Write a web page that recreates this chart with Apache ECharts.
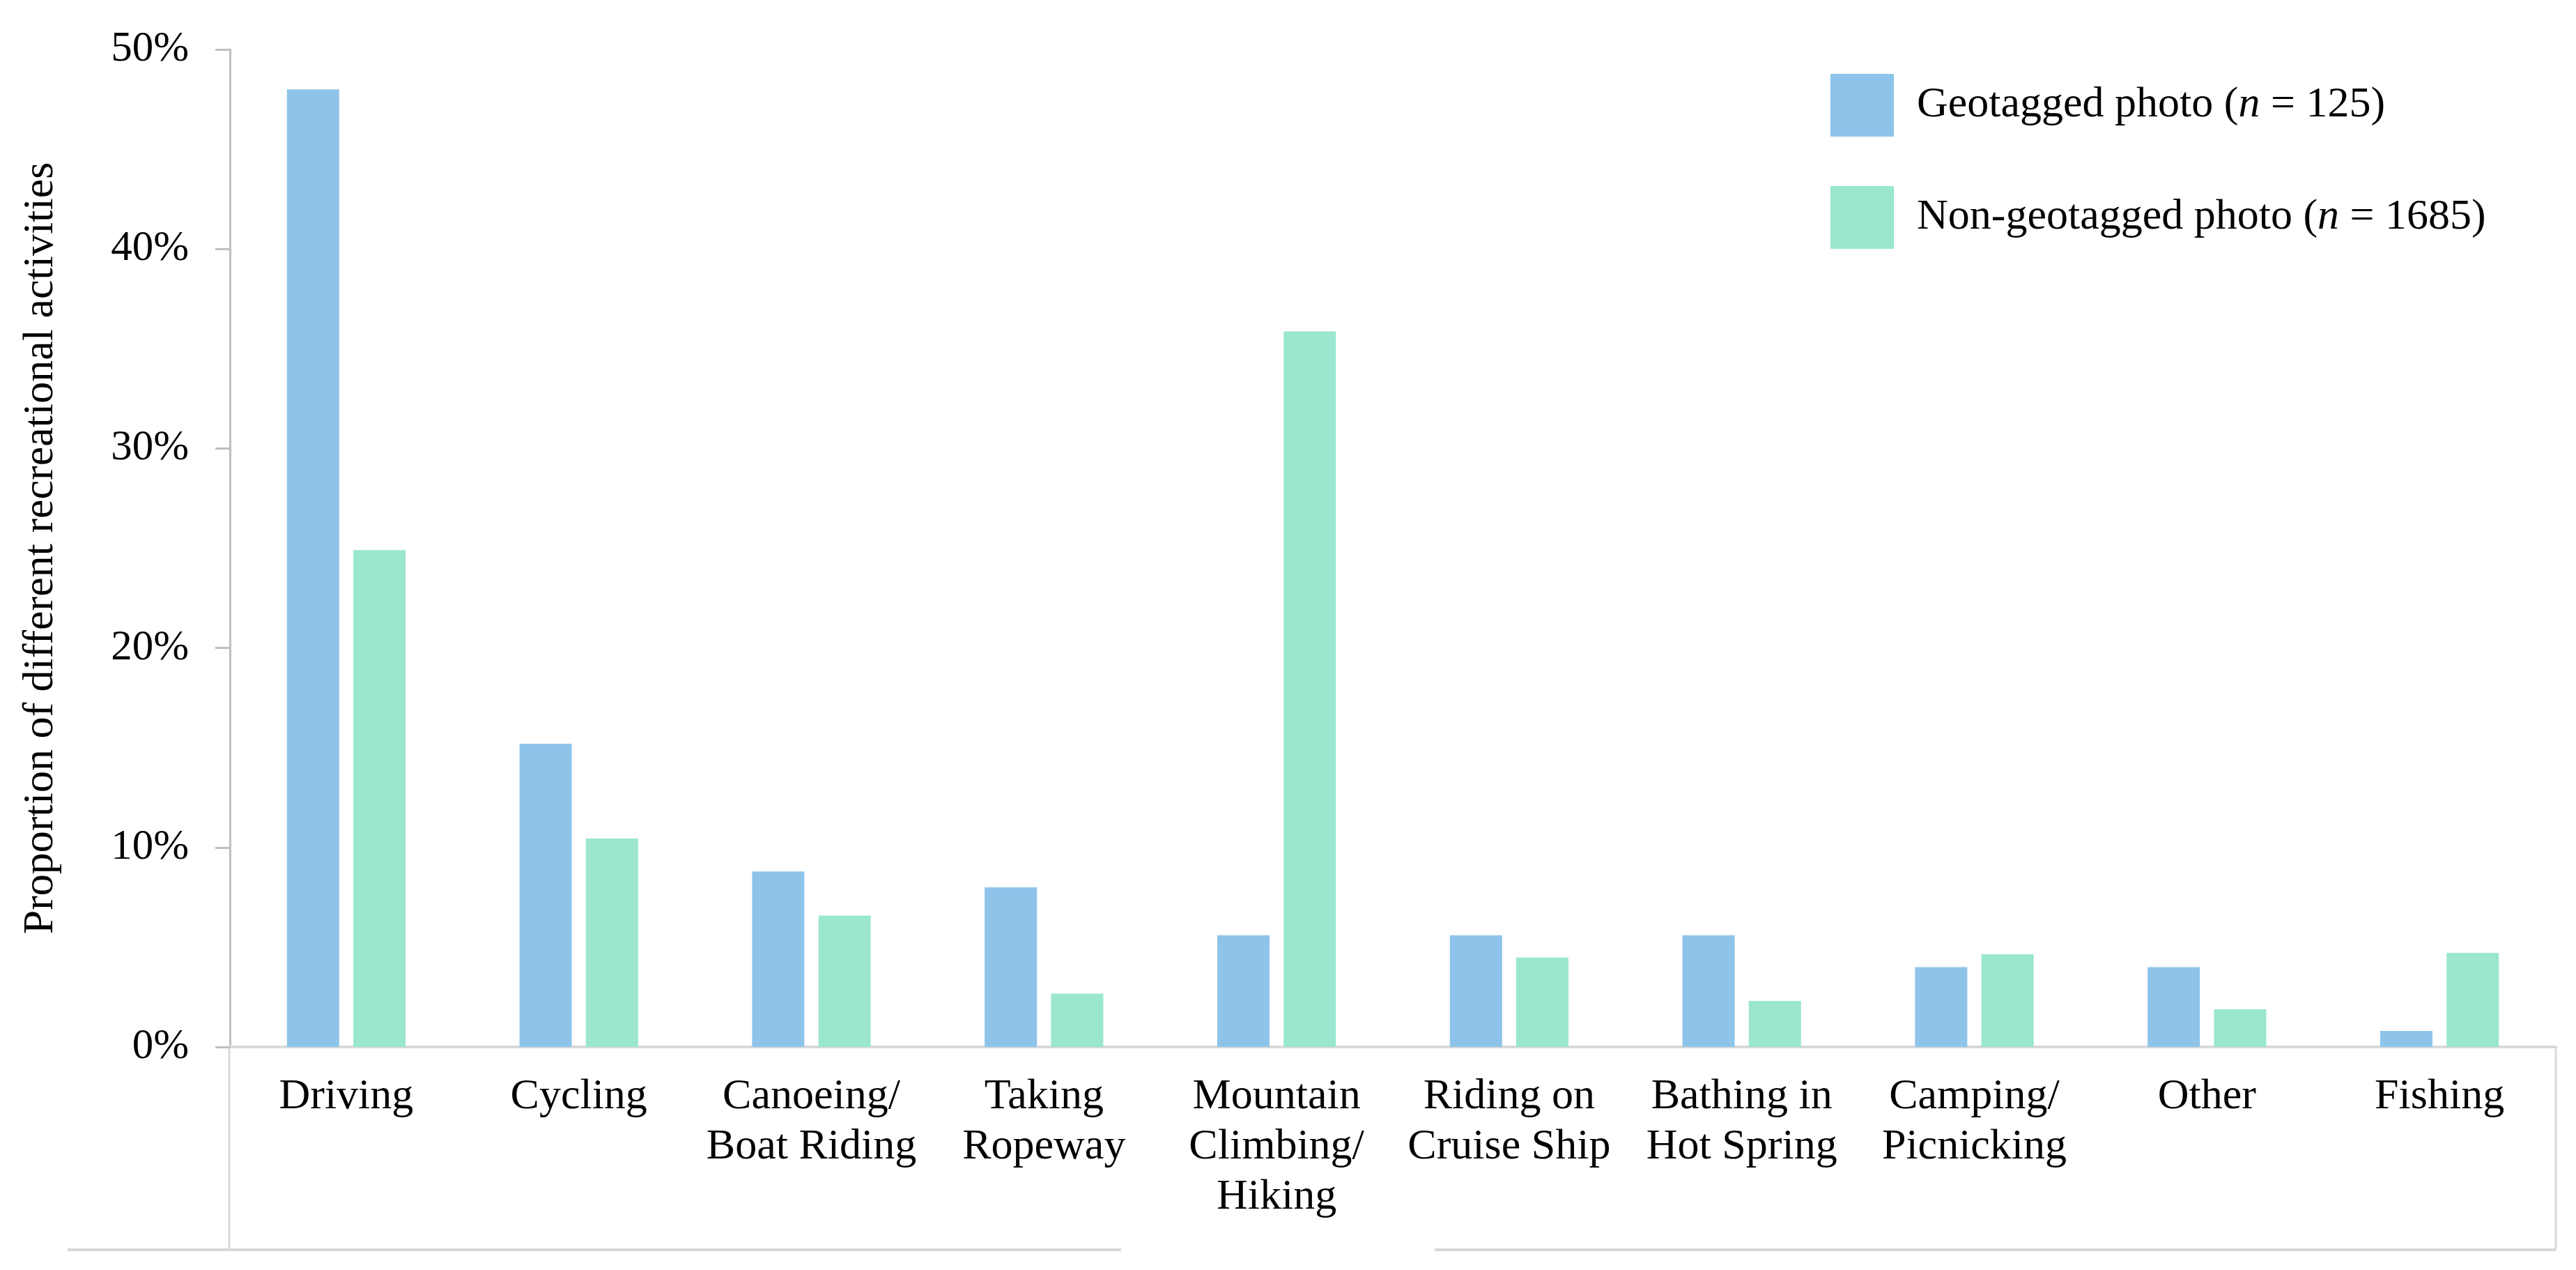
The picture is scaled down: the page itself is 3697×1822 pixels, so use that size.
<!DOCTYPE html>
<html>
<head>
<meta charset="utf-8">
<script src="https://cdn.jsdelivr.net/npm/echarts@6/dist/echarts.min.js"></script>
<style>
html,body{margin:0;padding:0;background:#fff;}
#chart{width:3697px;height:1822px;}
</style>
</head>
<body>
<div id="chart"></div>
<script>
const categories = ['Driving', 'Cycling', 'Canoeing/\nBoat Riding', 'Taking\nRopeway', 'Mountain\nClimbing/\nHiking', 'Riding on\nCruise Ship', 'Bathing in\nHot Spring', 'Camping/\nPicnicking', 'Other', 'Fishing'];
const seriesNames = ['Geotagged photo (n = 125)', 'Non-geotagged photo (n = 1685)'];
const geotagged = [48.0, 15.2, 8.8, 8.0, 5.6, 5.6, 5.6, 4.0, 4.0, 0.8];
const nonGeotagged = [24.9, 10.45, 6.59, 2.67, 35.87, 4.48, 2.31, 4.65, 1.89, 4.72];
const yTicks = { min: 0, max: 50, interval: 10 };
const yAxisTitle = 'Proportion of different recreational activities';

const FONT = 'Liberation Serif';
const chart = echarts.init(document.getElementById('chart'), null, { renderer: 'canvas' });

chart.setOption({
  animation: false,
  backgroundColor: '#ffffff',
  textStyle: { fontFamily: FONT, color: '#000' },
  grid: { left: 330, right: 29, top: 71, bottom: 320, containLabel: false },
  legend: {
    orient: 'vertical',
    left: 2627,
    top: 106,
    itemWidth: 91,
    itemHeight: 90,
    itemGap: 71,
    padding: 0,
    icon: 'rect',
    data: seriesNames,
    formatter: function (name) {
      return name.replace('(n =', '({i|n} =');
    },
    textStyle: {
      fontFamily: FONT,
      fontSize: 62,
      color: '#000',
      padding: [0, 0, 0, 28],
      rich: {
        i: { fontFamily: FONT, fontSize: 62, fontStyle: 'italic', color: '#000' }
      }
    }
  },
  xAxis: {
    type: 'category',
    data: categories,
    axisLine: { show: true, lineStyle: { color: '#d9d9d9', width: 4 } },
    axisTick: { show: false },
    axisLabel: {
      interval: 0,
      margin: 36,
      fontFamily: FONT,
      fontSize: 62,
      lineHeight: 72,
      color: '#000'
    },
    splitLine: { show: false }
  },
  yAxis: {
    type: 'value',
    min: yTicks.min,
    max: yTicks.max,
    interval: yTicks.interval,
    name: yAxisTitle,
    nameLocation: 'middle',
    nameGap: 240,
    nameTextStyle: { fontFamily: FONT, fontSize: 62, color: '#000' },
    axisLine: { show: true, lineStyle: { color: '#bfbfbf', width: 3 } },
    axisTick: { show: true, length: 21, lineStyle: { color: '#bfbfbf', width: 3 } },
    axisLabel: {
      margin: 59,
      fontFamily: FONT,
      fontSize: 61,
      color: '#000',
      formatter: '{value}%'
    },
    splitLine: { show: false }
  },
  series: [
    {
      name: seriesNames[0],
      type: 'bar',
      data: geotagged,
      barWidth: 75,
      barGap: '27%',
      itemStyle: { color: '#8ec4e9' }
    },
    {
      name: seriesNames[1],
      type: 'bar',
      data: nonGeotagged,
      barWidth: 75,
      itemStyle: { color: '#9ae6cf' }
    }
  ],
  graphic: [
    { type: 'line', shape: { x1: 329, y1: 1502, x2: 329, y2: 1793 }, style: { stroke: '#d9d9d9', lineWidth: 3 }, silent: true },
    { type: 'line', shape: { x1: 3668, y1: 1502, x2: 3668, y2: 1793 }, style: { stroke: '#d9d9d9', lineWidth: 3 }, silent: true },
    { type: 'line', shape: { x1: 97, y1: 1793, x2: 1609, y2: 1793 }, style: { stroke: '#d9d9d9', lineWidth: 4 }, silent: true },
    { type: 'line', shape: { x1: 2059, y1: 1793, x2: 3668, y2: 1793 }, style: { stroke: '#d9d9d9', lineWidth: 4 }, silent: true }
  ]
});
</script>
</body>
</html>
